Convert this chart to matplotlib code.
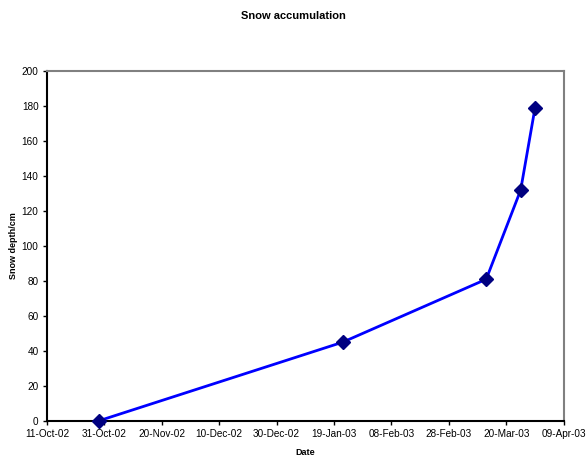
import datetime as dt
import matplotlib
matplotlib.use('Agg')
import matplotlib.pyplot as plt
import matplotlib.dates as mdates

dates = ['2002-10-29', '2003-01-22', '2003-03-13', '2003-03-25', '2003-03-30']
depth = [0, 45, 81, 132, 179]

plt.rcParams['font.family'] = ['Liberation Sans', 'DejaVu Sans']

x = [dt.datetime.strptime(d, '%Y-%m-%d') for d in dates]

fig = plt.figure(figsize=(5.86, 4.59), dpi=100)
ax = fig.add_axes([0.080, 0.083, 0.882, 0.762])

ax.plot(x, depth, color='#0000ff', linewidth=2, marker='D', markersize=7.5,
        markerfacecolor='#000080', markeredgecolor='#000080', clip_on=False, zorder=3)

start = dt.datetime(2002, 10, 11)
ticks = [start + dt.timedelta(days=20 * i) for i in range(10)]
ax.set_xlim(ticks[0], ticks[-1])
ax.set_xticks(ticks)
ax.xaxis.set_major_formatter(mdates.DateFormatter('%d-%b-%y'))
ax.set_ylim(0, 200)
ax.set_yticks(range(0, 201, 20))

ax.tick_params(direction='out', length=3, labelsize=7.2, width=1, pad=3)
ax.spines['left'].set_color('black')
ax.spines['bottom'].set_color('black')
ax.spines['top'].set_color('#808080')
ax.spines['right'].set_color('#808080')
for s in ax.spines.values():
    s.set_linewidth(1.5)

ax.set_xlabel('Date', fontsize=6.5, fontweight='bold', labelpad=6)
ax.set_ylabel('Snow depth/cm', fontsize=6.5, fontweight='bold', labelpad=3)
fig.suptitle('Snow accumulation', fontsize=8, fontweight='bold', y=0.975)

fig.savefig('out.png', dpi=100)
